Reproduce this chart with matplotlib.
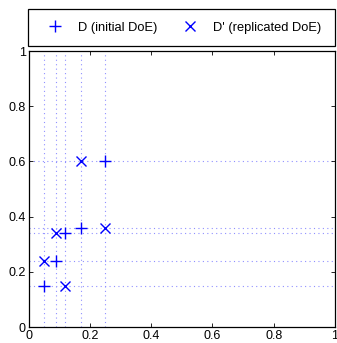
import matplotlib
matplotlib.use("Agg")
import matplotlib.pyplot as plt
from matplotlib.patches import Rectangle

plt.rcParams['font.family'] = ['Liberation Sans', 'DejaVu Sans']

x_vals = [0.05, 0.09, 0.12, 0.17, 0.25]
y_initial = [0.15, 0.24, 0.34, 0.36, 0.60]
y_replicated = [0.24, 0.34, 0.15, 0.60, 0.36]
ticks = [0, 0.2, 0.4, 0.6, 0.8, 1]
tick_labels = ['0', '0.2', '0.4', '0.6', '0.8', '1']
labels = ['D (initial DoE)', "D' (replicated DoE)"]

W, H = 337, 343
fig = plt.figure(figsize=(W / 100, H / 100), dpi=100)
ax = fig.add_axes([28.5 / W, 16 / H, 306.5 / W, 276 / H])

grid_color = '#9090ff'
for xv in x_vals:
    ax.plot([xv, xv], [0, 1], linestyle=(0, (1, 3)), color=grid_color, linewidth=0.8, zorder=1)
for yv in sorted(set(y_initial + y_replicated)):
    ax.plot([0, 1], [yv, yv], linestyle=(0, (1, 3)), color=grid_color, linewidth=0.8, zorder=1)

h1, = ax.plot(x_vals, y_initial, linestyle='none', marker='+', color='blue',
              markersize=9, markeredgewidth=1.0, zorder=3)
h2, = ax.plot(x_vals, y_replicated, linestyle='none', marker='x', color='blue',
              markersize=6.5, markeredgewidth=1.0, zorder=3)

ax.set_xlim(0, 1)
ax.set_ylim(0, 1)
ax.set_xticks(ticks)
ax.set_xticklabels(tick_labels)
ax.set_yticks(ticks)
ax.set_yticklabels(tick_labels)
ax.tick_params(direction='in', top=True, right=True, length=3, width=0.6,
               labelsize=9, pad=2)
for s in ax.spines.values():
    s.set_linewidth(0.9)

# legend frame
fig.patches.append(Rectangle((28 / W, (H - 46) / H), 307 / W, 37 / H,
                             transform=fig.transFigure, facecolor='white',
                             edgecolor='black', linewidth=0.9, zorder=0))
leg = fig.legend([h1, h2], labels, loc='center left', ncol=2,
                 bbox_to_anchor=(48.5 / W, 1 - 27.5 / H), borderaxespad=0,
                 borderpad=0, fontsize=9.3, frameon=False,
                 handlelength=1.0, handletextpad=1.29, columnspacing=2.0)

fig.savefig('out.png', dpi=100)
